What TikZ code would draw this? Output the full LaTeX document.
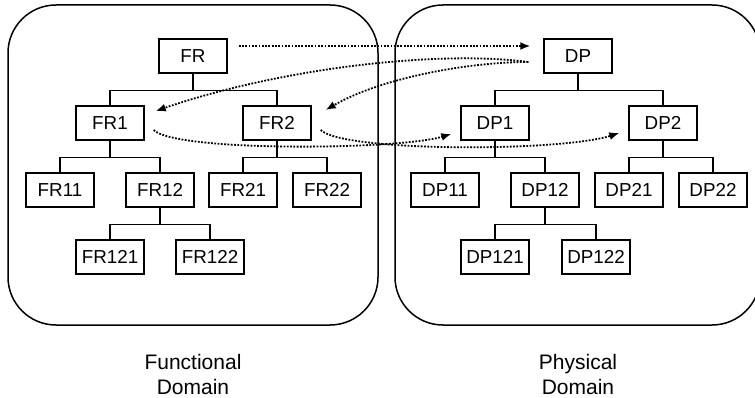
\documentclass[tikz,border=0pt]{standalone}
\usepackage{fontspec}
\setmainfont{Liberation Sans}
\usepackage{tikz}
\usetikzlibrary{arrows.meta,calc}

\newcommand\boxfont{\fontsize{18.8}{21}\selectfont}
\newcommand\domfont{\fontsize{21}{25}\selectfont}

\tikzset{
  block/.style={draw, line width=1.4pt, minimum width=68pt, minimum height=34pt,
    inner sep=0pt, font=\boxfont},
  domainbox/.style={draw, line width=1.5pt, rounded corners=48pt},
  branch/.style={line width=1.4pt},
  zigzag/.style={line width=1.8pt, dash pattern=on 1.8pt off 1.5pt,
    -{Latex[length=10pt,width=8pt]}}
}

\begin{document}
\begin{tikzpicture}[x=1pt,y=-1pt]
\useasboundingbox (0,0) rectangle (755,398);
\clip (0,0) rectangle (755,398);

% domains
\draw[domainbox] (8,5) rectangle (378,325);
\draw[domainbox] (395,5) rectangle (760,325);
\node[align=center, font=\domfont] (fdom) at (193,374) {Functional\\Domain};
\node[align=center, font=\domfont] (pdom) at (578,374) {Physical\\Domain};

% functional requirements
\node[block] (FR) at (193,56) {FR};
\node[block] (FR1) at (110,123) {FR1};
\node[block] (FR2) at (277,123) {FR2};
\node[block] (FR11) at (60,190) {FR11};
\node[block] (FR12) at (160,190) {FR12};
\node[block] (FR21) at (243,190) {FR21};
\node[block] (FR22) at (327,190) {FR22};
\node[block] (FR121) at (110,257) {FR121};
\node[block] (FR122) at (210,257) {FR122};

% design parameters
\node[block] (DP) at (578,56) {DP};
\node[block] (DP1) at (495,123) {DP1};
\node[block] (DP2) at (663,123) {DP2};
\node[block] (DP11) at (445,190) {DP11};
\node[block] (DP12) at (545,190) {DP12};
\node[block] (DP21) at (629,190) {DP21};
\node[block] (DP22) at (713,190) {DP22};
\node[block] (DP121) at (495,257) {DP121};
\node[block] (DP122) at (596,257) {DP122};

% hierarchy
\foreach \p/\a/\b in {FR/FR1/FR2, FR1/FR11/FR12, FR2/FR21/FR22, FR12/FR121/FR122,
                      DP/DP1/DP2, DP1/DP11/DP12, DP2/DP21/DP22, DP12/DP121/DP122}
{
  \draw[branch] (\p.south) -- ++(0,17) -| (\a.north);
  \draw[branch] (\p.south) -- ++(0,17) -| (\b.north);
}

% mapping
\draw[zigzag, shorten <=11pt, shorten >=13pt] ([yshift=10pt]FR.east) -- ([yshift=10pt]DP.west);
\draw[zigzag] ([shift={(-15,6)}]DP.west) .. controls +(-90,-12) and +(125,-43) .. ([shift={(11,-12)}]FR1.east);
\draw[zigzag] ([shift={(-15,6)}]DP.west) .. controls +(-60,0) and +(55,-32) .. ([shift={(14,-13)}]FR2.east);
\draw[zigzag] ([shift={(9,7)}]FR1.east) .. controls +(22,22) and +(-53,16) .. ([shift={(-9,11)}]DP1.west);
\draw[zigzag] ([shift={(9,7)}]FR2.east) .. controls +(22,22) and +(-60,19) .. ([shift={(-9,10)}]DP2.west);
\end{tikzpicture}
\end{document}
